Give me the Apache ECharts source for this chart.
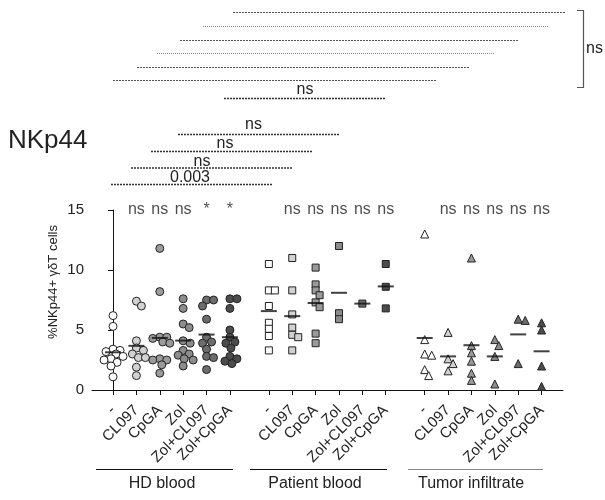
<!DOCTYPE html>
<html>
<head>
<meta charset="utf-8">
<script src="https://cdn.jsdelivr.net/npm/echarts@6/dist/echarts.min.js"></script>
<style>
  html, body { margin: 0; padding: 0; background: #fff; }
  #chart { width: 605px; height: 500px; }
</style>
</head>
<body>
<div id="chart"></div>
<script>
var conditions = ["-", "CL097", "CpGA", "Zol", "Zol+CL097", "Zol+CpGA"];
var groups = ["HD blood", "Patient blood", "Tumor infiltrate"];

// %NKp44+ gd T cells per donor
var hdValues = [
  [6.2, 5.3, 3.4, 3.3, 3.2, 3.0, 2.8, 2.6, 2.5, 2.3, 2.0, 1.1],
  [7.4, 7.0, 4.1, 3.5, 3.3, 3.0, 2.7, 2.7, 1.9, 1.2],
  [11.8, 8.2, 4.4, 4.4, 4.3, 4.0, 3.9, 2.6, 2.5, 2.5, 2.1, 1.4],
  [7.6, 6.8, 5.5, 5.2, 4.1, 3.9, 3.3, 3.0, 2.9, 2.6, 2.5, 2.0],
  [7.5, 7.5, 7.0, 5.9, 4.4, 4.0, 3.9, 3.4, 2.8, 2.7, 1.7],
  [7.6, 7.6, 6.8, 5.0, 4.4, 4.0, 3.9, 3.5, 2.8, 2.6, 2.4, 2.2]
];
var patientValues = [
  [10.5, 8.3, 8.3, 7.0, 5.6, 5.1, 4.5, 3.3],
  [11.0, 8.3, 6.3, 5.2, 4.6, 4.4, 3.3],
  [10.2, 8.8, 8.3, 7.9, 7.3, 6.9, 4.7, 3.9],
  [12.0, 6.4, 5.9],
  [7.2],
  [10.5, 8.6, 6.8]
];
var tumorValues = [
  [13.0, 4.2, 3.0, 2.9, 1.7, 1.2],
  [4.8, 2.6, 2.2, 1.6],
  [11.0, 3.7, 3.1, 2.4, 1.4, 0.8],
  [4.2, 3.7, 2.8, 0.5],
  [5.9, 5.8, 2.2],
  [5.6, 5.0, 2.0, 0.3]
];

var hdSig = ["", "ns", "ns", "ns", "*", "*"];
var patientSig = ["", "ns", "ns", "ns", "ns", "ns"];
var tumorSig = ["", "ns", "ns", "ns", "ns", "ns"];

var allValues = [hdValues, patientValues, tumorValues];
var allSig = [hdSig, patientSig, tumorSig];

// layout
var gridL = 92, gridR = 42, gridT = 210, gridB = 110;
var xMin = -0.9, xMax = 19.25, yMax = 15;
var groupStep = 6 + 2 / 3;
var pxPerX = (605 - gridL - gridR) / (xMax - xMin);
var pxPerY = (500 - gridT - gridB) / yMax;

var symbols = ["circle", "rect", "triangle"];
var symbolSizes = [8, 7, 8];
var fills = ["#ffffff", "#d2d2d2", "#9a9a9a", "#8c8c8c", "#6c6c6c", "#4c4c4c"];

// simple beeswarm: nearest free offset, limited spread
function swarm(values, size, maxOff) {
  var placed = [];
  return values.map(function (v) {
    var y = v * pxPerY;
    var best = 0, bestDist = -1;
    for (var k = 0; k <= maxOff; k++) {
      var cands = k === 0 ? [0] : [k, -k];
      var done = false;
      for (var c = 0; c < cands.length; c++) {
        var d = Infinity;
        placed.forEach(function (p) {
          d = Math.min(d, Math.hypot(p[0] - cands[c], p[1] - y));
        });
        if (d >= size) { best = cands[c]; done = true; break; }
        if (d > bestDist) { bestDist = d; best = cands[c]; }
      }
      if (done) break;
    }
    placed.push([best, y]);
    return best / pxPerX;
  });
}

var positions = [];
var labels = [];
var series = [];
var meanData = [];
var sigData = [];

groups.forEach(function (g, gi) {
  conditions.forEach(function (c, ci) {
    var pos = gi * groupStep + ci;
    positions.push(pos);
    labels.push(c);
    var vals = allValues[gi][ci];
    var offs = swarm(vals, symbolSizes[gi] * 0.85, 10);
    series.push({
      type: "scatter",
      symbol: symbols[gi],
      symbolSize: symbolSizes[gi],
      data: vals.map(function (v, k) { return [pos + offs[k], v]; }),
      itemStyle: { color: fills[ci], borderColor: "#222", borderWidth: 1, opacity: 1 },
      z: 2
    });
    var mean = vals.reduce(function (a, b) { return a + b; }, 0) / vals.length;
    meanData.push([pos, mean]);
    sigData.push({ value: [pos, yMax], name: allSig[gi][ci] });
  });
});

series.push({
  type: "scatter",
  symbol: "rect",
  symbolSize: [16, 2],
  data: meanData,
  itemStyle: { color: "#111" },
  z: 5
});
series.push({
  type: "scatter",
  symbolSize: 0,
  data: sigData,
  clip: false,
  label: {
    show: true,
    position: "inside",
    formatter: function (p) { return p.name; },
    fontSize: 16,
    color: "#222",
    fontFamily: "Liberation Sans, Arial, sans-serif"
  },
  z: 6
});

var font = "Liberation Sans, Arial, sans-serif";

function dotted(x1, x2, y, color, width, dash) {
  return {
    type: "line",
    shape: { x1: x1, y1: y, x2: x2, y2: y },
    style: { stroke: color, lineWidth: width, lineDash: dash }
  };
}
function txt(x, y, s, size, align) {
  return {
    type: "text",
    x: x, y: y,
    style: { text: s, fontSize: size, fontFamily: font, fill: "#222",
      textAlign: align || "center", textVerticalAlign: "middle" }
  };
}

var graphics = [
  txt(8, 141, "NKp44", 26, "left"),
  dotted(233, 565, 12.5, "#555", 1, [2, 1]),
  dotted(203, 549, 26.5, "#888", 1, [1, 1]),
  dotted(180, 518, 40.5, "#555", 1, [2, 1]),
  dotted(157, 495, 53.5, "#888", 1, [1, 1]),
  dotted(137, 469, 67.5, "#555", 1, [2, 1]),
  dotted(113, 436, 80.5, "#555", 1, [2, 1]),
  {
    type: "polyline",
    shape: { points: [[577, 10.5], [583.5, 10.5], [583.5, 87.5], [577, 87.5]] },
    style: { stroke: "#555", lineWidth: 1.2, fill: null }
  },
  txt(586, 49, "ns", 16, "left"),
  dotted(224, 386, 98.5, "#333", 1.5, [2, 1]),
  txt(305, 89.5, "ns", 16),
  dotted(178, 340, 134.5, "#333", 1.5, [2, 1]),
  txt(253.5, 124.5, "ns", 16),
  dotted(151, 312, 151.5, "#333", 1.5, [2, 1]),
  txt(225, 143.5, "ns", 16),
  dotted(131, 293, 168, "#333", 1.5, [2, 1]),
  txt(202, 162, "ns", 16),
  dotted(111, 273, 184.5, "#333", 1.5, [2, 1]),
  txt(190, 177.5, "0.003", 16),
  dotted(96, 233, 469.5, "#111", 1, null),
  dotted(250, 387, 469.5, "#111", 1, null),
  dotted(408, 543, 469.5, "#888", 1, null),
  txt(162, 484, groups[0], 16),
  txt(315, 484, groups[1], 16),
  txt(471, 484, groups[2], 16),
  {
    type: "text",
    x: 53, y: 282, rotation: Math.PI / 2,
    style: { text: "%NKp44+ \u03b3\u03b4T cells", fontSize: 13, fontFamily: font, fill: "#222",
      textAlign: "center", textVerticalAlign: "middle" }
  }
];

var chart = echarts.init(document.getElementById("chart"), null, { renderer: "canvas" });
chart.setOption({
  animation: false,
  backgroundColor: "#fff",
  grid: { left: gridL, right: gridR, top: gridT, bottom: gridB },
  xAxis: {
    type: "value",
    min: xMin,
    max: xMax,
    splitLine: { show: false },
    axisLine: { show: true, lineStyle: { color: "#111", width: 1 } },
    axisTick: { show: true, customValues: positions, length: 5, lineStyle: { color: "#111" } },
    axisLabel: {
      customValues: positions,
      rotate: 45,
      margin: 18,
      padding: [16, 0, 0, 0],
      fontSize: 15,
      fontFamily: font,
      color: "#222",
      formatter: function (v) {
        for (var i = 0; i < positions.length; i++) {
          if (Math.abs(positions[i] - v) < 1e-6) return labels[i];
        }
        return "";
      }
    }
  },
  yAxis: {
    type: "value",
    min: 0,
    max: yMax,
    interval: 5,
    splitLine: { show: false },
    axisLine: { show: true, lineStyle: { color: "#111", width: 1 } },
    axisTick: { show: true, length: 5, lineStyle: { color: "#111" } },
    axisLabel: { fontSize: 15, fontFamily: font, color: "#222", margin: 8 }
  },
  graphic: graphics,
  series: series
});
</script>
</body>
</html>
